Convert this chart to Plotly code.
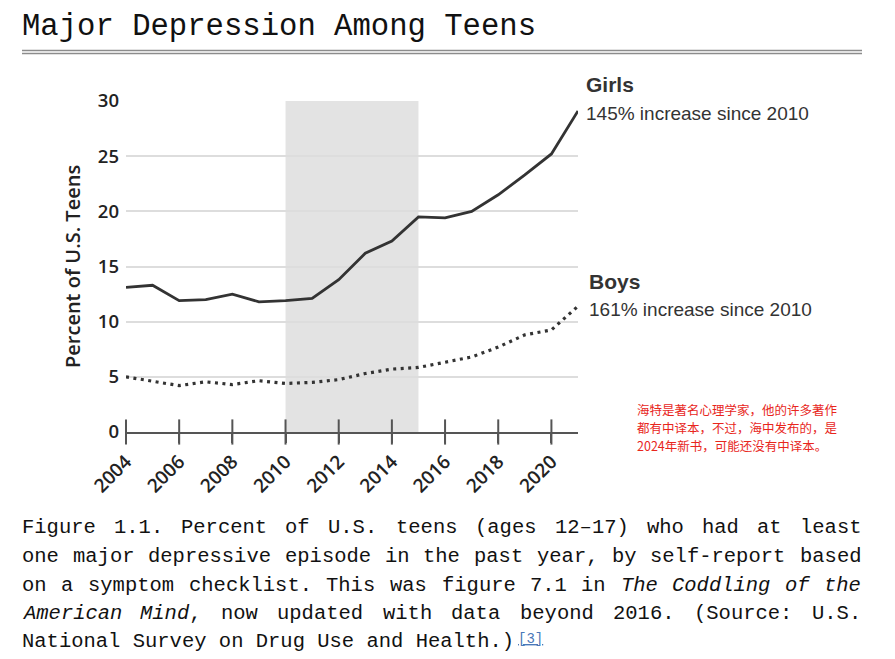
import re
import plotly.graph_objects as go

# ---------------- data ----------------
years = list(range(2004, 2022))
girls = [13.1, 13.3, 11.9, 12.0, 12.5, 11.8, 11.9, 12.1, 13.8, 16.2, 17.3, 19.5, 19.4, 20.0, 21.5, 23.3, 25.2, 29.1]
boys = [5.0, 4.6, 4.2, 4.55, 4.3, 4.65, 4.4, 4.5, 4.75, 5.3, 5.7, 5.85, 6.35, 6.8, 7.7, 8.8, 9.25, 11.4]
x_ticks = list(range(2004, 2021, 2))
y_ticks = [0, 5, 10, 15, 20, 25, 30]
shade_years = [2010, 2015]

title_text = "Major Depression Among Teens"
y_title = "Percent of U.S. Teens"
girls_label = "Girls"
girls_note = "145% increase since 2010"
boys_label = "Boys"
boys_note = "161% increase since 2010"
red_note = ["海特是著名心理学家，他的许多著作",
            "都有中译本，不过，海中发布的，是",
            "2024年新书，可能还没有中译本。"]
caption_lines = [
    ["Figure", "1.1.", "Percent", "of", "U.S.", "teens", "(ages", "12–17)", "who", "had", "at", "least"],
    ["one", "major", "depressive", "episode", "in", "the", "past", "year,", "by", "self-report", "based"],
    ["on", "a", "symptom", "checklist.", "This", "was", "figure", "7.1", "in", "<i>The</i>", "<i>Coddling</i>", "<i>of</i>", "<i>the</i>"],
    ["<i>American</i>", "<i>Mind</i>,", "now", "updated", "with", "data", "beyond", "2016.", "(Source:", "U.S."],
]
caption_last = "National Survey on Drug Use and Health.)"
ref_mark = "[3]"

# ---------------- geometry helpers (reference pixel -> paper) ----------------
PAGE_W, PAGE_H = 895, 659
BODY = 8  # default page margin of the browser
L, R, T, B = 126, 578, 101, 432
def px(x):
    return (x - L) / (R - L)
def py(y):
    return (B - y) / (B - T)

ink = "#333333"
fig = go.Figure()

fig.add_trace(go.Scatter(x=years, y=girls, mode="lines",
                         line=dict(color=ink, width=2.8), hoverinfo="skip", showlegend=False))
fig.add_trace(go.Scatter(x=years, y=boys, mode="lines",
                         line=dict(color=ink, width=3.2, dash="3px,4.5px"), hoverinfo="skip", showlegend=False))
# upper halves of the crossing ticks
fig.add_trace(go.Scatter(x=x_ticks, y=[0] * len(x_ticks), mode="markers", cliponaxis=False,
                         marker=dict(symbol="line-ns", size=18, line=dict(color="#555555", width=2)),
                         hoverinfo="skip", showlegend=False))

shapes = [
    dict(type="rect", xref="x", yref="y", x0=shade_years[0], x1=shade_years[1], y0=0, y1=30,
         fillcolor="#e3e3e3", line=dict(width=0), layer="below"),
    dict(type="line", xref="paper", yref="paper", x0=px(22), x1=px(862), y0=py(50.5), y1=py(50.5),
         line=dict(color="#8c8c8c", width=1.6)),
    dict(type="line", xref="paper", yref="paper", x0=px(22), x1=px(862), y0=py(53.5), y1=py(53.5),
         line=dict(color="#8c8c8c", width=1.6)),
]

ann = []
def text(x, y, s, size, family, color="#222", xanchor="left", angle=0, weight=None):
    f = dict(size=size, family=family, color=color)
    if weight:
        f["weight"] = weight
    ann.append(dict(x=px(x), y=py(y), xref="paper", yref="paper", text=s, showarrow=False,
                    xanchor=xanchor, yanchor="middle", font=f, textangle=angle, borderpad=0))

mono = "Liberation Mono"
text(21, 27, title_text, 30.6, mono, "#111")

text(72, 267, y_title, 20, "Open Sans", "#222", xanchor="center", angle=-90, weight=600)

sans = "Liberation Sans"
text(585, 85, "<b>" + girls_label + "</b>", 21, sans, ink)
text(585, 113, girls_note, 19, sans, ink)
text(588, 281, "<b>" + boys_label + "</b>", 21, sans, ink)
text(588, 309, boys_note, 19, sans, ink)

for i, line in enumerate(red_note):
    text(636, 409 + i * 18, line, 12.5, "Noto Sans CJK SC", "#e8261c")

# caption, justified lines
fs = 20.5
cw = 0.6 * fs
x_left, x_right = 21, 860
centers = [527, 556, 585, 613, 641]
for li, words in enumerate(caption_lines):
    lens = [len(re.sub("<[^>]+>", "", w)) for w in words]
    gap = ((x_right - x_left) - sum(lens) * cw) / (len(words) - 1)
    xpos = x_left
    for w, n in zip(words, lens):
        text(xpos, centers[li], w, fs, mono, "#111")
        xpos += n * cw + gap
text(x_left, centers[4], caption_last, fs, mono, "#111")
text(x_left + len(caption_last) * cw + 4, centers[4] - 2, "<u>" + ref_mark + "</u>", 14, mono, "#4a78b8")

fig.update_layout(
    width=PAGE_W - BODY, height=PAGE_H - BODY,
    margin=dict(l=L - BODY, r=PAGE_W - R, t=T - BODY, b=PAGE_H - B, autoexpand=False),
    paper_bgcolor="white", plot_bgcolor="white",
    shapes=shapes, annotations=ann,
    xaxis=dict(range=[2004, 2021], tickvals=x_ticks, ticks="outside", ticklen=9, tickwidth=2,
               tickcolor="#555555", showline=True, linecolor="#555555", linewidth=2,
               showgrid=False, zeroline=False, tickangle=-45,
               tickfont=dict(family="Open Sans", size=19, color="#222", weight=600)),
    yaxis=dict(range=[0, 30], tickvals=y_ticks, showgrid=True, gridcolor="#dddddd", gridwidth=2,
               zeroline=False, showline=False, ticks="", ticklabelstandoff=6,
               tickfont=dict(family="Open Sans", size=18.5, color="#222", weight=600)),
)

fig.write_html("out.html")
